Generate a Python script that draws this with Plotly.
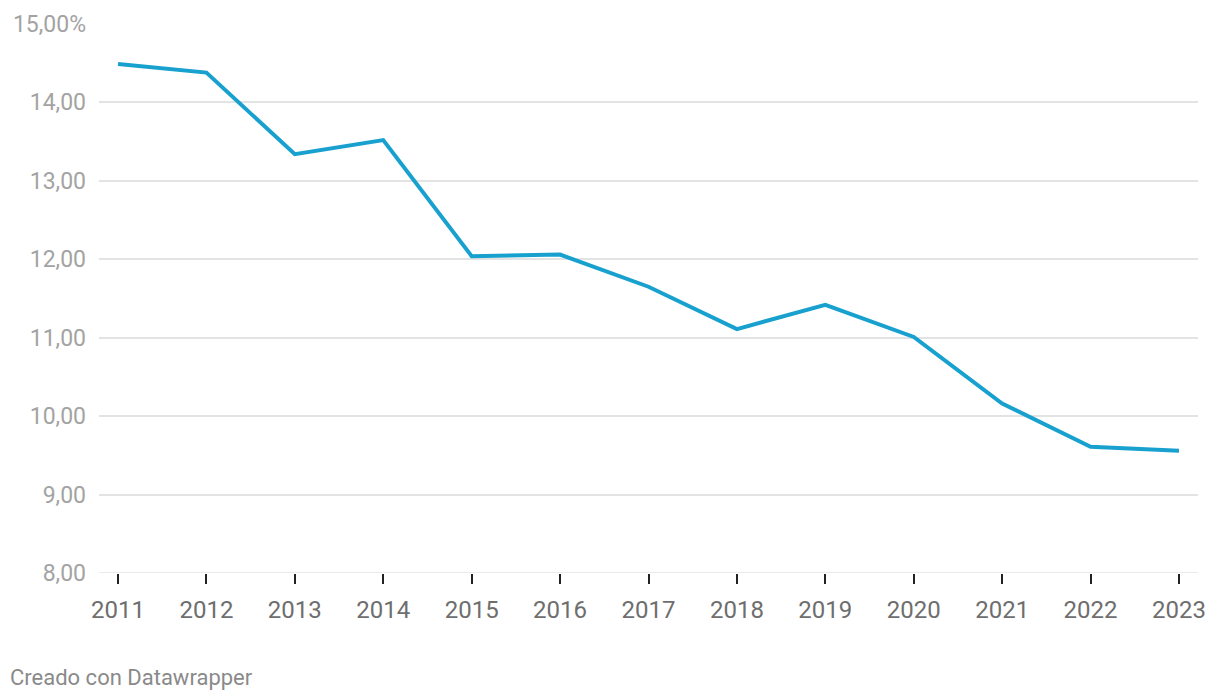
import plotly.graph_objects as go

# Datos
years = list(range(2011, 2024))
values = [14.49, 14.38, 13.34, 13.52, 12.04, 12.06, 11.65, 11.11, 11.42, 11.01, 10.16, 9.61, 9.56]

y_tickvals = [8, 9, 10, 11, 12, 13, 14, 15]
y_ticktext = ["8,00", "9,00", "10,00", "11,00", "12,00", "13,00", "14,00", "15,00%"]

fig = go.Figure()

fig.add_trace(
    go.Scatter(x=years, y=values, mode="lines",
               line=dict(color="#18a1cf", width=4),
               hoverinfo="skip", showlegend=False)
)

# línea base (gridline en 8,00 que plotly omite en el borde)
fig.add_shape(type="line", xref="paper", yref="y", x0=0, x1=1, y0=8, y1=8,
              line=dict(color="#e3e3e3", width=1.5), layer="below")

fig.update_layout(
    width=1220, height=700,
    paper_bgcolor="white", plot_bgcolor="white",
    margin=dict(l=91, r=30, t=16, b=135),
    font=dict(family="Roboto", size=21, color="#999999"),
    annotations=[
        dict(text="Creado con Datawrapper", xref="paper", yref="paper",
             x=-91 / 1099, y=-104 / 549, xanchor="left", yanchor="middle",
             showarrow=False, font=dict(family="Roboto", size=22, color="#8a8a8a"))
    ],
)

fig.update_xaxes(
    range=[2010.785, 2023.215],
    tickvals=years, ticktext=[str(y) for y in years],
    showgrid=False, zeroline=False, showline=False, automargin=False,
    ticks="outside", ticklen=10, tickwidth=2, tickcolor="#222222",
    tickfont=dict(family="Roboto", size=24, color="#6e6e6e"),
    ticklabelstandoff=5,
)

fig.update_yaxes(
    range=[8, 15],
    tickvals=y_tickvals, ticktext=y_ticktext,
    showgrid=True, gridcolor="#e3e3e3", gridwidth=1.5,
    zeroline=False, showline=False, ticks="", automargin=False,
    tickfont=dict(family="Roboto", size=23, color="#a3a3a3"),
    ticklabelstandoff=12,
)

fig.write_html("out.html")
